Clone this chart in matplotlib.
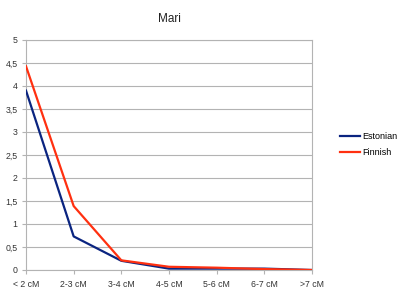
import matplotlib
matplotlib.use("Agg")
import matplotlib.pyplot as plt

categories = ["< 2 cM", "2-3 cM", "3-4 cM", "4-5 cM", "5-6 cM", "6-7 cM", ">7 cM"]
estonian = [3.9, 0.73, 0.2, 0.03, 0.03, 0.03, 0.0]
finnish = [4.43, 1.39, 0.21, 0.07, 0.05, 0.02, 0.0]
yticks = [0, 0.5, 1, 1.5, 2, 2.5, 3, 3.5, 4, 4.5, 5]

plt.rcParams["font.family"] = ["Liberation Sans", "DejaVu Sans"]

fig = plt.figure(figsize=(4, 2.93), dpi=100)
ax = fig.add_axes([0.065, 0.0785, 0.715, 0.785])

x = list(range(len(categories)))
ax.plot(x, estonian, color="#0a2480", lw=1.6, label="Estonian", zorder=3)
ax.plot(x, finnish, color="#ff3010", lw=1.6, label="Finnish", zorder=3)

ax.set_xlim(0, len(categories) - 1)
ax.set_ylim(0, 5)
ax.set_yticks(yticks)
ax.set_yticklabels([str(v).replace(".", ",") if v % 1 else str(int(v)) for v in yticks])
ax.set_xticks(x)
ax.set_xticklabels(categories)
ax.grid(axis="y", color="#b3b3b3", lw=0.8)
ax.set_axisbelow(True)
for s in ax.spines.values():
    s.set_color("#b3b3b3")
    s.set_linewidth(0.8)
ax.tick_params(labelsize=6.3, colors="#333333", length=3, width=0.8)
ax.tick_params(axis="x", pad=4)
ax.tick_params(axis="y", pad=3)
ax.tick_params(axis="both", color="#b3b3b3")

ax.set_title("Mari", fontsize=8.5, color="#222222", pad=13)

fig.legend(loc="center left", bbox_to_anchor=(0.83, 0.507), frameon=False,
           fontsize=6.5, handlelength=2.2, handletextpad=0.2, labelspacing=0.75)

fig.savefig("out.png", dpi=100, facecolor="white")
